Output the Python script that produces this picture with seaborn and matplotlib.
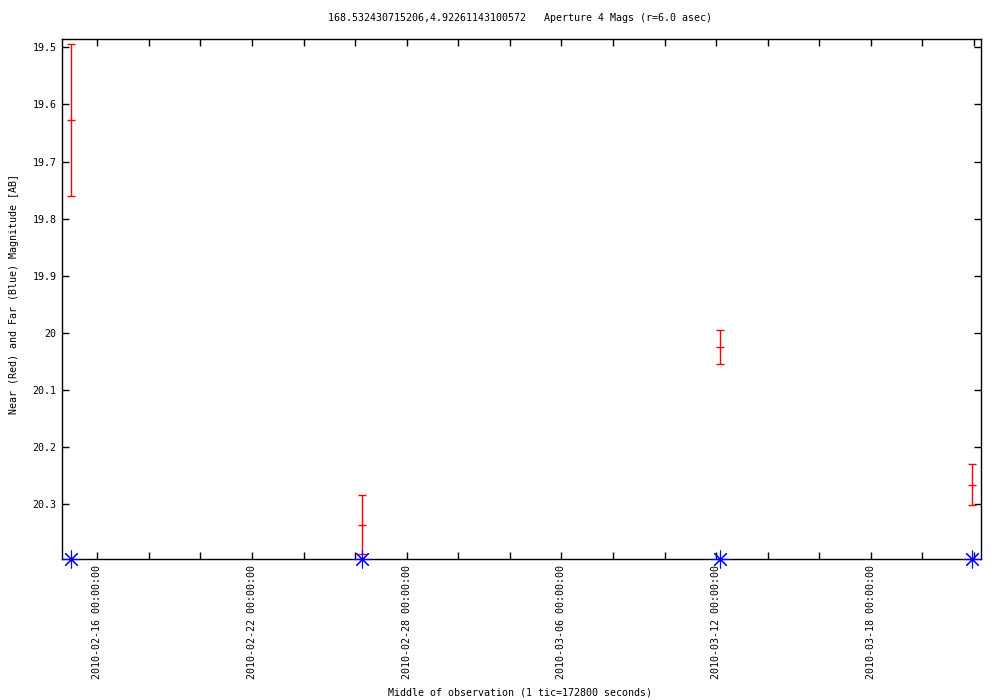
import matplotlib
matplotlib.use("Agg")
import matplotlib.pyplot as plt
import matplotlib.dates as mdates
import seaborn as sns
import pandas as pd

# ---- data ----
obs_times = ["2010-02-14 23:50", "2010-02-26 06:10", "2010-03-12 03:50", "2010-03-21 22:30"]
near_mag = [19.628, 20.336, 20.025, 20.266]
near_err = [0.133, 0.052, 0.030, 0.036]
far_mag = [20.396, 20.396, 20.396, 20.396]

title = "168.532430715206,4.92261143100572   Aperture 4 Mags (r=6.0 asec)"
xlabel = "Middle of observation (1 tic=172800 seconds)"
ylabel = "Near (Red) and Far (Blue) Magnitude [AB]"
ytick_vals = [19.5, 19.6, 19.7, 19.8, 19.9, 20.0, 20.1, 20.2, 20.3]
ytick_labels = ["19.5", "19.6", "19.7", "19.8", "19.9", "20", "20.1", "20.2", "20.3"]
xtick_start = "2010-02-16"
xlim = ("2010-02-14 15:05", "2010-03-22 06:30")
ylim = (19.4855, 20.396)

sns.set_theme(style="white")
plt.rcParams["font.family"] = ["DejaVu Sans Mono", "DejaVu Sans"]
plt.rcParams["text.color"] = "black"
FS = 7.2

df = pd.DataFrame({"t": pd.to_datetime(obs_times), "near": near_mag,
                   "err": near_err, "far": far_mag})

fig = plt.figure(figsize=(10, 7), dpi=100)
ax = fig.add_axes([0.062, 0.2014, 0.919, 0.7429])

ax.errorbar(df["t"], df["near"], yerr=df["err"], fmt="none", ecolor="red",
            elinewidth=1.0, capsize=2.6, capthick=1.0, zorder=3)
sns.scatterplot(data=df, x="t", y="near", marker="_", s=28, color="red",
                linewidth=1.0, ax=ax, zorder=4, legend=False)
sns.scatterplot(data=df, x="t", y="far", marker=(8, 2, 0), s=150, color="blue",
                linewidth=0.8, ax=ax, zorder=5, legend=False, clip_on=False)

ax.set_xlim(pd.Timestamp(xlim[0]), pd.Timestamp(xlim[1]))
ax.set_ylim(ylim[1], ylim[0])

# x ticks every 2 days, labels every 6 days
start = pd.Timestamp(xtick_start)
ticks = [start + pd.Timedelta(days=2 * k) for k in range(0, 18)]
ticks = [t for t in ticks if pd.Timestamp(xlim[0]) <= t <= pd.Timestamp(xlim[1])]
labels = [t.strftime("%Y-%m-%d %H:%M:%S") if (i % 3 == 0) else "" for i, t in enumerate(ticks)]
ax.set_xticks([mdates.date2num(t) for t in ticks])
ax.set_xticklabels(labels, rotation=90, fontsize=FS, va="top", ha="center")

ax.set_yticks(ytick_vals)
ax.set_yticklabels(ytick_labels, fontsize=FS)

ax.tick_params(axis="both", which="major", direction="in", length=5, width=1,
               color="black", top=True, right=True, bottom=True, left=True,
               pad=4, labelcolor="black")
for s in ax.spines.values():
    s.set_color("black")
    s.set_linewidth(1.0)

ax.set_xlabel("")
ax.set_ylabel("")
fig.text(0.52, 0.974, title, ha="center", va="center", fontsize=FS, color="black")
fig.text(0.52, 0.011, xlabel, ha="center", va="center", fontsize=FS, color="black")
fig.text(0.014, 0.58, ylabel, ha="center", va="center", rotation=90, fontsize=FS, color="black")

fig.savefig("out.png", dpi=100, facecolor="white")
